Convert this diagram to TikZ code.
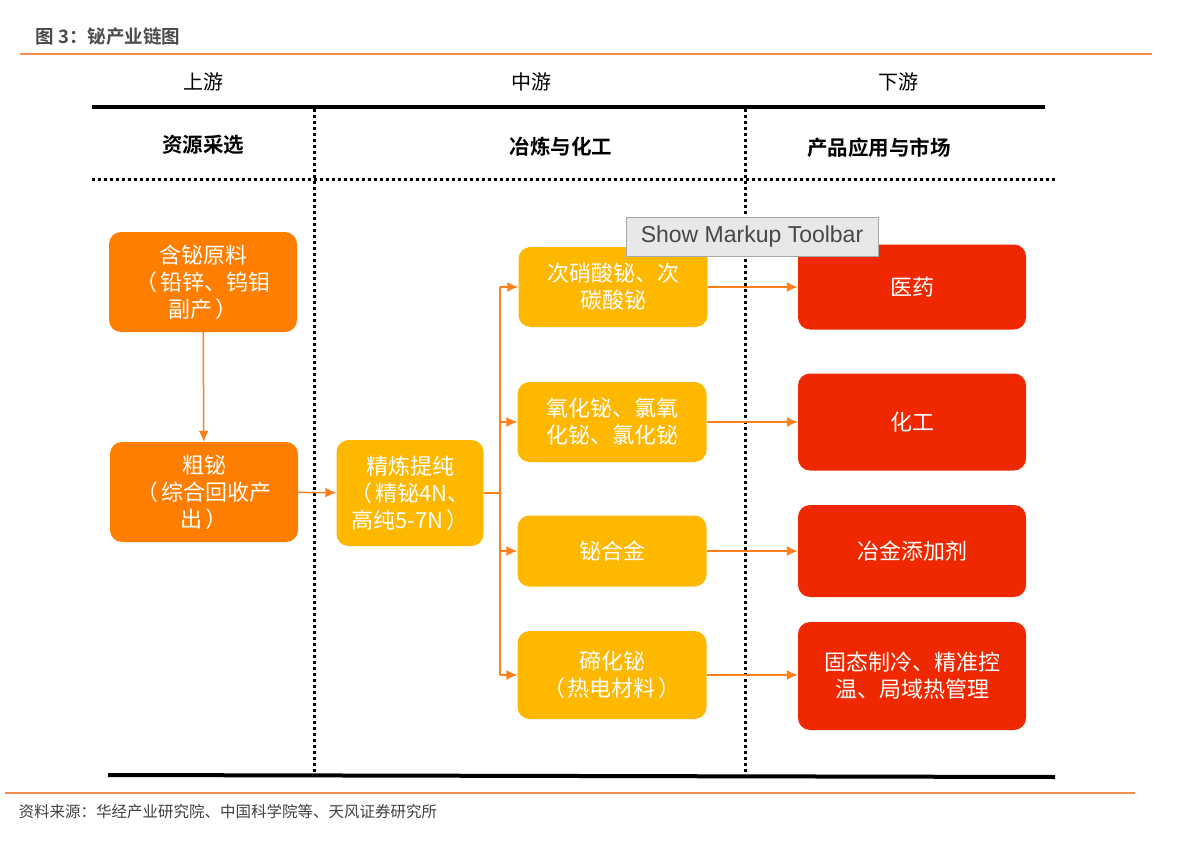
\documentclass[tikz,border=0pt]{standalone}
\usepackage{fontspec}
\setmainfont{Noto Sans CJK SC}[BoldFont={Noto Sans CJK SC Bold}]
\newfontfamily\uifont{Liberation Sans}
\usepackage{xcolor}
\usetikzlibrary{arrows.meta,positioning}
\definecolor{rawcol}{HTML}{FF7E00}
\definecolor{midcol}{HTML}{FFB800}
\definecolor{endcol}{HTML}{F02800}
\definecolor{linkcol}{HTML}{FF7F1A}
\definecolor{rulecol}{HTML}{F58B4C}
\newcommand{\lp}{（\hspace{3pt}}
\newcommand{\rp}{\hspace{3pt}）}

\begin{document}
\begin{tikzpicture}[x=1pt,y=-1pt,
	box/.style={rounded corners=12pt,text=white,align=center,inner sep=0pt,
		font=\fontsize{22}{27}\selectfont},
	rawbox/.style={box,fill=rawcol,minimum width=188pt,minimum height=100pt},
	midbox/.style={box,fill=midcol,minimum width=189pt,minimum height=80pt},
	endbox/.style={box,fill=endcol,minimum width=228pt},
	link/.style={linkcol,line width=1.5pt},
	flow/.style={link,-{Latex[length=11pt,width=10pt]}},
	sep/.style={line width=3pt,dash pattern=on 3pt off 3pt},
	heavy/.style={line width=4pt},
	head/.style={font=\fontsize{20}{24}\selectfont},
	subhead/.style={font=\bfseries\fontsize{20.5}{24}\selectfont}]
	\useasboundingbox (0,0) rectangle (1184,848);
	% title and frame rules
	\node[anchor=west,text=black!70,font=\bfseries\fontsize{18.5}{20}\selectfont] (title) at (32,37) {图 3：铋产业链图};
	\draw[rulecol,line width=1.5pt] (20,54) -- (1152,54);
	\draw[rulecol,line width=1.5pt] (5,793) -- (1135,793);
	\node[anchor=west,text=black!75,font=\fontsize{15.5}{18}\selectfont] (source) at (15,812) {资料来源：华经产业研究院、中国科学院等、天风证券研究所};
		% columns
	\node[head] (up) at (203,82) {上游};
	\node[head] (mid) at (531,82) {中游};
	\node[head] (down) at (898,82) {下游};
	\draw[heavy] (92,107) -- (1045,107);
	\node[subhead] (mine) at (203,145) {资源采选};
	\node[subhead] (smelt) at (561,147) {冶炼与化工};
	\node[subhead] (market) at (879,148) {产品应用与市场};
	\draw[sep] (92,180) -- (1055,180);
	\draw[sep] (314,109) -- (314,775);
	\draw[sep] (745,109) -- (745,775);
	\draw[heavy] (108,775) -- (1055,777);
	% upstream
	\node[rawbox] (ore) at (203,282) {含铋原料\\\lp 铅锌、钨钼\\副产\rp};
	\node[rawbox] (crude) at (204,492) {粗铋\\\lp 综合回收产\\出\rp};
	\draw[flow] (ore) -- (crude);
	% midstream
	\node[midbox,minimum width=147pt,minimum height=106pt] (refine) at (410,493) {精炼提纯\\\lp 精铋4N、\\高纯5-7N\rp};
	\draw[flow] (crude) -- (refine);
	\node[midbox] (nitrate) at (613,287) {次硝酸铋、次\\碳酸铋};
	\node[midbox] (oxide) at (612,422) {氧化铋、氯氧\\化铋、氯化铋};
	\node[midbox,minimum height=71pt] (alloy) at (612,551) {铋合金};
	\node[midbox,minimum height=88pt] (telluride) at (612,675) {碲化铋\\\lp 热电材料\rp};
	\coordinate (trunk) at (500,493);
	\draw[link] (refine) -- (trunk);
	\draw[link] (trunk |- nitrate.west) -- (trunk |- telluride.west);
	\foreach \n in {nitrate,oxide,alloy,telluride}
		\draw[flow] (trunk |- \n.west) -- (\n.west);
	% downstream
	\node[endbox,minimum height=85pt] (medic) at (912,287) {医药};
	\node[endbox,minimum height=97pt] (chem) at (912,422) {化工};
	\node[endbox,minimum height=92pt] (metal) at (912,551) {冶金添加剂};
	\node[endbox,minimum height=108pt] (cool) at (912,676) {固态制冷、精准控\\温、局域热管理};
	\draw[flow] (nitrate.east) -- (nitrate.east -| medic.west);
	\draw[flow] (oxide.east) -- (oxide.east -| chem.west);
	\draw[flow] (alloy.east) -- (alloy.east -| metal.west);
	\draw[flow] (telluride.east) -- (telluride.east -| cool.west);
	% viewer tooltip
	\node[draw=black!35,fill=black!9,minimum width=252pt,minimum height=39pt,inner sep=0pt,
		text=black!72,font=\uifont\fontsize{23}{26}\selectfont] (tip) at (752,237) {Show Markup Toolbar};
\end{tikzpicture}
\end{document}
